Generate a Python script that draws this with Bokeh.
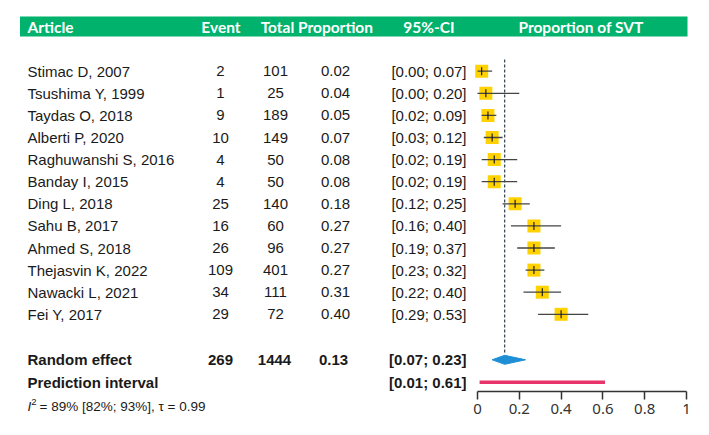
import numpy as np
from bokeh.plotting import figure
from bokeh.models import (Range1d, LinearAxis, FixedTicker, CustomJSTickFormatter,
                          ColumnDataSource, BoxAnnotation)
from bokeh.core.properties import value
from bokeh.embed import file_html
from bokeh.resources import INLINE

# ---------------- data ----------------
articles = ["Stimac D, 2007", "Tsushima Y, 1999", "Taydas O, 2018", "Alberti P, 2020",
            "Raghuwanshi S, 2016", "Banday I, 2015", "Ding L, 2018", "Sahu B, 2017",
            "Ahmed S, 2018", "Thejasvin K, 2022", "Nawacki L, 2021", "Fei Y, 2017"]
events = [2, 1, 9, 10, 4, 4, 25, 16, 26, 109, 34, 29]
totals = [101, 25, 189, 149, 50, 50, 140, 60, 96, 401, 111, 72]
props = [0.02, 0.04, 0.05, 0.07, 0.08, 0.08, 0.18, 0.27, 0.27, 0.27, 0.31, 0.40]
lower = [0.00, 0.00, 0.02, 0.03, 0.02, 0.02, 0.12, 0.16, 0.19, 0.23, 0.22, 0.29]
upper = [0.07, 0.20, 0.09, 0.12, 0.19, 0.19, 0.25, 0.40, 0.37, 0.32, 0.40, 0.53]

re_events, re_total = 269, 1444
re_est, re_lower, re_upper = 0.13, 0.07, 0.23
pi_lower, pi_upper = 0.01, 0.61
i2_text = "= 89% [82%; 93%], τ = 0.99"

headers = ["Article", "Event", "Total", "Proportion", "95%-CI", "Proportion of SVT"]
tick_values = [0, 0.2, 0.4, 0.6, 0.8, 1]

# ---------------- layout helpers (pixel -> data) ----------------
def X(px):
    return (px - 477.0) / 209.0

def Y(py):
    return (py - 70.7) / 22.1

rows = list(range(len(articles)))
y_re = Y(359.3)
y_pi = Y(381.7)

W, H = 693, 419
p = figure(width=W, height=H, output_backend="svg", toolbar_location=None,
           x_range=Range1d(X(0), X(W)), y_range=Range1d(Y(H), Y(0)),
           x_axis_location=None, y_axis_location=None,
           min_border_left=0, min_border_right=0, min_border_top=0, min_border_bottom=0,
           background_fill_color="white", border_fill_color="white")
p.outline_line_color = None
p.grid.visible = False

# header bar
p.add_layout(BoxAnnotation(left=X(19.5), right=X(687), top=Y(16), bottom=Y(36),
                           fill_color="#00B26B", fill_alpha=1.0, line_color=None,
                           level="underlay"))
y_h = Y(26.5)
hdr_x = [X(27), X(220.5), X(277), X(335), X(428.5), X(580.5)]
hdr_align = ["left", "center", "center", "center", "center", "center"]
hsrc = ColumnDataSource(dict(x=hdr_x, y=[y_h] * len(headers), t=headers, a=hdr_align))
p.text(x="x", y="y", text="t", text_align="a", source=hsrc, text_baseline="middle",
       text_color="white", text_font=value("Lato"), text_font_size="15.5px",
       text_font_style="bold")

# study table
ci_text = ["[%.2f; %.2f]" % (l, u) for l, u in zip(lower, upper)]
src = ColumnDataSource(dict(y=rows, art=articles, ev=[str(e) for e in events],
                            tot=[str(t) for t in totals],
                            pr=["%.2f" % v for v in props], ci=ci_text,
                            est=props, lo=lower, hi=upper))
common = dict(source=src, text_baseline="middle", text_color="#1a1a1a",
              text_font=value("Liberation Sans"), text_font_size="15px")
p.text(x=X(27), y="y", text="art", text_align="left", **common)
p.text(x=X(220), y="y", text="ev", text_align="center", **common)
p.text(x=X(275), y="y", text="tot", text_align="center", **common)
p.text(x=X(335), y="y", text="pr", text_align="center", **common)
p.text(x=X(466), y="y", text="ci", text_align="right", **common)

# summary rows
bold = dict(text_baseline="middle", text_color="#1a1a1a", text_font=value("Liberation Sans"),
            text_font_size="15px", text_font_style="bold")
ssrc = ColumnDataSource(dict(
    x=[X(27), X(220), X(274), X(333), X(466), X(27), X(466)],
    y=[y_re] * 5 + [y_pi] * 2,
    t=["Random effect", str(re_events), str(re_total), "%.2f" % re_est,
       "[%.2f; %.2f]" % (re_lower, re_upper), "Prediction interval",
       "[%.2f; %.2f]" % (pi_lower, pi_upper)],
    a=["left", "center", "center", "center", "right", "left", "right"]))
p.text(x="x", y="y", text="t", text_align="a", source=ssrc, **bold)

# heterogeneity text
het = dict(text_baseline="middle", text_color="#1a1a1a", text_font=value("Liberation Sans"))
p.text(x=[X(27)], y=[Y(406)], text=["I"], text_font_style="italic", text_font_size="13.5px", **het)
p.text(x=[X(30.8)], y=[Y(401.5)], text=["2"], text_font_size="9.5px", **het)
p.text(x=[X(39)], y=[Y(406)], text=[i2_text], text_font_size="13.5px", **het)

# reference dashed line at pooled estimate
p.segment(x0=re_est, x1=re_est, y0=Y(59), y1=Y(352), line_color="#2f4050",
          line_width=1.2, line_dash="3 2")

# study squares, whiskers, centre ticks
p.scatter(x="est", y="y", source=src, marker="square", size=13,
          fill_color="#FFD200", line_color=None)
p.segment(x0="lo", x1="hi", y0="y", y1="y", source=src, line_color="#444444", line_width=1.3)
p.scatter(x="est", y="y", source=src, marker="dash", angle=np.pi / 2, size=8,
          line_color="#111111", line_width=1.1)

# diamond for random effect
hh = 4.5 / 22.1
p.patch(x=[re_lower, re_est, re_upper, re_est], y=[y_re, y_re - hh, y_re, y_re + hh],
        fill_color="#1E8FD5", line_color="#1E8FD5")

# prediction interval
p.segment(x0=pi_lower, x1=pi_upper, y0=y_pi, y1=y_pi, line_color="#E8336B", line_width=3.5)

# x axis drawn at a fixed location inside the frame
ax = LinearAxis(ticker=FixedTicker(ticks=tick_values), bounds=(0, 1),
                formatter=CustomJSTickFormatter(code="return tick.toString();"),
                fixed_location=Y(391))
ax.axis_line_color = "#333333"
ax.axis_line_width = 1.5
ax.major_tick_line_color = "#333333"
ax.major_tick_line_width = 1.5
ax.major_tick_in = 0
ax.major_tick_out = 8
ax.minor_tick_line_color = None
ax.major_label_standoff = 4
ax.major_label_text_font = "Noto Sans"
ax.major_label_text_font_size = "15px"
ax.major_label_text_color = "#333333"
p.add_layout(ax, "below")

open("out.html", "w").write(file_html(p, INLINE))
